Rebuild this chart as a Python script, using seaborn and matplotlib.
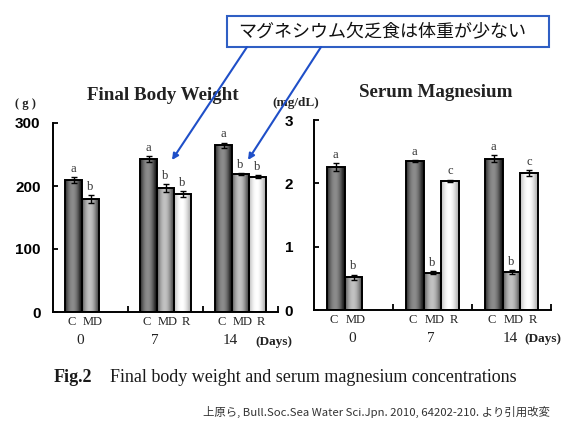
import numpy as np
import pandas as pd
import matplotlib
matplotlib.use("Agg")
import matplotlib.pyplot as plt
import seaborn as sns
from matplotlib.patches import Rectangle, FancyArrowPatch

# ---------------- data ----------------
days = ["0", "7", "14"]
groups = ["C", "MD", "R"]

bw_C = [209, 243, 265]
bw_MD = [179, 197, 219]
bw_R = [None, 187, 215]
bw_C_err = [5, 5, 4]
bw_MD_err = [6, 6, 2]
bw_R_err = [None, 5, 3]
bw_C_sig = ["a", "a", "a"]
bw_MD_sig = ["b", "b", "b"]
bw_R_sig = [None, "b", "b"]

mg_C = [2.26, 2.35, 2.39]
mg_MD = [0.52, 0.59, 0.60]
mg_R = [None, 2.04, 2.16]
mg_C_err = [0.06, 0.02, 0.05]
mg_MD_err = [0.04, 0.02, 0.03]
mg_R_err = [None, 0.02, 0.05]
mg_C_sig = ["a", "a", "a"]
mg_MD_sig = ["b", "b", "b"]
mg_R_sig = [None, "c", "c"]

bw_ticks = [0, 100, 200, 300]
mg_ticks = [0, 1, 2, 3]

title_bw = "Final Body Weight"
title_mg = "Serum Magnesium"
unit_bw = "( g )"
unit_mg = "(mg/dL)"
days_label = "(Days)"
caption_fig = "Fig.2"
caption_txt = "Final body weight and serum magnesium concentrations"
source_txt = "上原ら, Bull.Soc.Sea Water Sci.Jpn. 2010, 64202-210. より引用改変"
note_txt = "マグネシウム欠乏食は体重が少ない"


def build(c, md, r, ce, mde, re_, cs, mds, rs):
    rows = []
    for g, vals, errs, sigs in (("C", c, ce, cs), ("MD", md, mde, mds), ("R", r, re_, rs)):
        for d, v, e, s in zip(days, vals, errs, sigs):
            if v is not None:
                rows.append(dict(day=d, group=g, value=v, err=e, sig=s))
    return pd.DataFrame(rows)


df_bw = build(bw_C, bw_MD, bw_R, bw_C_err, bw_MD_err, bw_R_err, bw_C_sig, bw_MD_sig, bw_R_sig)
df_mg = build(mg_C, mg_MD, mg_R, mg_C_err, mg_MD_err, mg_R_err, mg_C_sig, mg_MD_sig, mg_R_sig)

# shading (low, high brightness) per group for cylinder-like bars
shade = {"C": (0.14, 0.55), "MD": (0.34, 0.76), "R": (0.72, 1.0)}

W, H = 586, 426
fig = plt.figure(figsize=(W / 100, H / 100), dpi=100)
fig.patch.set_facecolor("white")


def fx(x):
    return x / W


def fy(y):
    return 1 - y / H


ax1 = fig.add_axes([fx(53), fy(312), 225 / W, 189 / H])
ax2 = fig.add_axes([fx(314), fy(310), 237 / W, 190 / H])

serif = "Liberation Serif"
sans = "Liberation Sans"
label_shift = {"C": -0.03, "MD": 0.03, "R": 0.04}


def draw(ax, df, ylim, yticks, ypad, day_shift):
    sns.barplot(data=df, x="day", y="value", hue="group", order=days,
                hue_order=groups, errorbar=None, width=0.68, ax=ax,
                legend=False, palette=["#444444", "#888888", "#e0e0e0"],
                edgecolor="black", linewidth=1.4, saturation=1)
    t = np.linspace(0, 1, 64)
    for cont, g in zip(ax.containers, groups):
        sub = df[df.group == g].set_index("day").reindex(days).dropna(subset=["value"])
        lo, hi = shade[g]
        prof = lo + (hi - lo) * np.sin(np.pi * np.clip(t * 1.1, 0, 1)) ** 0.9
        grad = np.tile(prof, (2, 1))
        for p, (d, row) in zip(cont.patches, sub.iterrows()):
            x0, w, h = p.get_x(), p.get_width(), p.get_height()
            cx = x0 + w / 2
            im = ax.imshow(grad, extent=[x0, x0 + w, 0, h], aspect="auto",
                           cmap="gray", vmin=0, vmax=1, zorder=0.9,
                           interpolation="bilinear")
            im.set_clip_path(p)
            p.set_facecolor("none")
            p.set_zorder(1.5)
            ax.errorbar(cx, h, yerr=row["err"], fmt="none", ecolor="black",
                        elinewidth=1.0, capsize=2.2, capthick=1.0, zorder=3)
            ax.annotate(row["sig"], (cx, h + row["err"]), xytext=(0, 1.5),
                        textcoords="offset points", ha="center", va="bottom",
                        fontsize=9, family=serif, color="#333333")
            ax.annotate(g, xy=(cx + label_shift[g] * 1.0, 0),
                        xycoords=("data", "axes fraction"), xytext=(0, -3),
                        textcoords="offset points", ha="center", va="top",
                        fontsize=9, family=serif, color="#222222")
    ax.set_xlim(-0.5, 2.5)
    ax.set_ylim(*ylim)
    ax.set_xticks([])
    ax.set_xticks([0.5, 1.5, 2.5], minor=True)
    ax.tick_params(axis="x", which="minor", direction="in", length=4, width=1.3)
    ax.set_yticks(yticks)
    ax.tick_params(axis="y", direction="in", length=3.5, width=1.3, pad=ypad,
                   labelsize=11)
    for lab in ax.get_yticklabels():
        lab.set_family(sans)
        lab.set_fontweight("bold")
    ax.set_xlabel("")
    ax.set_ylabel("")
    for s in ("top", "right"):
        ax.spines[s].set_visible(False)
    for s in ("left", "bottom"):
        ax.spines[s].set_linewidth(1.4)
        ax.spines[s].set_color("black")
    ax.set_facecolor("none")
    for i, d in enumerate(days):
        ax.annotate(d, xy=(i + day_shift, 0), xycoords=("data", "axes fraction"),
                    xytext=(0, -20.5), textcoords="offset points", ha="center",
                    va="center", fontsize=11, family=serif, color="#222222")


draw(ax1, df_bw, (0, 300), bw_ticks, 9, -0.14)
draw(ax2, df_mg, (0, 3), mg_ticks, 15, -0.02)

# titles and units
fig.text(fx(163), fy(95), title_bw, ha="center", va="center", family=serif,
         fontweight="bold", fontsize=13.7, color="#222222")
fig.text(fx(436), fy(93), title_mg, ha="center", va="center", family=serif,
         fontweight="bold", fontsize=13.7, color="#222222")
fig.text(fx(25), fy(104), unit_bw, ha="center", va="center", family=serif,
         fontweight="bold", fontsize=9, color="#222222")
fig.text(fx(296), fy(103), unit_mg, ha="center", va="center", family=serif,
         fontweight="bold", fontsize=9.5, color="#222222")
fig.text(fx(274), fy(342), days_label, ha="center", va="center", family=serif,
         fontweight="bold", fontsize=9.5, color="#222222")
fig.text(fx(543), fy(339), days_label, ha="center", va="center", family=serif,
         fontweight="bold", fontsize=9.5, color="#222222")

# caption
fig.text(fx(54), fy(377), caption_fig, ha="left", va="center", family=serif,
         fontweight="bold", fontsize=13, color="#1a1a1a")
fig.text(fx(110), fy(377), caption_txt, ha="left", va="center", family=serif,
         fontsize=13, color="#1a1a1a")
fig.text(fx(550), fy(412), source_txt, ha="right", va="center",
         family=["Noto Sans CJK JP", "DejaVu Sans"], fontsize=8.2, color="#333333")

# annotation box with arrows
box = Rectangle((fx(227), fy(47)), (549 - 227) / W, (47 - 16) / H,
                transform=fig.transFigure, facecolor="white",
                edgecolor="#2f5fc4", linewidth=1.5, zorder=5)
fig.add_artist(box)
fig.text(fx(382), fy(32), note_txt, ha="center", va="center",
         family=["Noto Sans CJK JP", "DejaVu Sans"], fontsize=13, color="#111111",
         zorder=6)
for (xs, ys), (xe, ye) in (((247, 47), (172, 160)), ((321, 47), (248, 160))):
    arr = FancyArrowPatch((fx(xs), fy(ys)), (fx(xe), fy(ye)),
                          transform=fig.transFigure, arrowstyle="-|>",
                          mutation_scale=9, color="#1f4fc8", linewidth=1.5,
                          shrinkA=0, shrinkB=0, zorder=7)
    fig.add_artist(arr)

fig.savefig("out.png", dpi=100, facecolor="white")
